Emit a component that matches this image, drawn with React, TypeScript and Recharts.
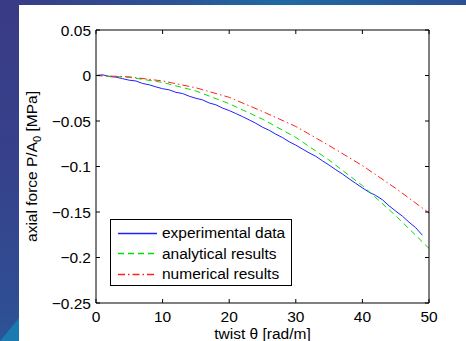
import React from 'react';
import { LineChart, Line, XAxis, YAxis, Legend } from 'recharts';

const twistExp = [0, 1, 2, 3, 4, 5, 6, 7, 8, 9, 10, 11, 12, 13, 14, 15, 16, 17, 18, 19, 20, 21, 22, 23, 24, 25, 26, 27, 28, 29, 30, 31, 32, 33, 34, 35, 36, 37, 38, 39, 40, 41, 42, 43, 44, 45, 46, 47, 48, 49];
const experimentalValues = [0, 0.0008, -0.0012, -0.0018, -0.0035, -0.0052, -0.006, -0.0088, -0.0102, -0.0125, -0.0145, -0.0158, -0.0185, -0.0198, -0.0228, -0.025, -0.0268, -0.0302, -0.0322, -0.0358, -0.0385, -0.0418, -0.0452, -0.0488, -0.0525, -0.0568, -0.0602, -0.0645, -0.0682, -0.0728, -0.0765, -0.0808, -0.085, -0.0888, -0.0938, -0.0985, -0.1035, -0.1082, -0.1135, -0.1185, -0.1235, -0.1282, -0.1318, -0.1365, -0.1432, -0.149, -0.1545, -0.1612, -0.1672, -0.1755];

const twistModel = [0, 5, 10, 15, 20, 25, 30, 35, 40, 45, 50];
const analyticalValues = [0, -0.002, -0.0076, -0.017, -0.031, -0.048, -0.068, -0.093, -0.121, -0.154, -0.19];
const numericalValues = [0, -0.0015, -0.006, -0.0135, -0.024, -0.0395, -0.056, -0.077, -0.099, -0.124, -0.151];

const xTicks = [0, 10, 20, 30, 40, 50];
const yTicks = [-0.25, -0.2, -0.15, -0.1, -0.05, 0, 0.05];
const seriesNames = ['experimental data', 'analytical results', 'numerical results'];

const seriesColors = ['#2020ff', '#00e000', '#ff2020'];
const seriesDashes: (string | undefined)[] = [undefined, '6 4', '7 3 1.5 3'];

const expData = twistExp.map((x, i) => ({ x, y: experimentalValues[i] }));
const anaData = twistModel.map((x, i) => ({ x, y: analyticalValues[i] }));
const numData = twistModel.map((x, i) => ({ x, y: numericalValues[i] }));

const FONT = '"Liberation Sans", Arial, Helvetica, sans-serif';
const FS = 15.5;

const fmtY = (v: number) => {
  if (v === 0) return '0';
  const s = String(Math.abs(v));
  return (v < 0 ? '\u2212' : '') + s;
};

const LegendBox = () => {
  return (
    <svg width={182} height={67} style={{ display: 'block' }}>
      <rect x={0.5} y={0.5} width={181} height={66} fill="#fff" stroke="#000" strokeWidth={1} />
      {seriesNames.map((name, i) => {
        const cy = 13.5 + i * 20.7;
        return (
          <g key={name}>
            <line
              x1={8}
              x2={47}
              y1={Math.round(cy) + 0.5}
              y2={Math.round(cy) + 0.5}
              style={{ stroke: seriesColors[i], strokeWidth: 1.3, strokeDasharray: seriesDashes[i] || 'none' }}
            />
            <text
              x={52}
              y={cy + 5.5}
              fontFamily={FONT}
              fontSize={FS}
              fill="#000"
            >
              {name}
            </text>
          </g>
        );
      })}
    </svg>
  );
};

const YLabel = (props: any) => {
  const vb = props.viewBox || { x: 0, y: 30, width: 96, height: 273 };
  const cx = vb.x + 37;
  const cy = vb.y + vb.height / 2;
  return (
    <text
      x={cx}
      y={cy}
      transform={`rotate(-90 ${cx} ${cy})`}
      textAnchor="middle"
      fontFamily={FONT}
      fontSize={FS}
      fill="#000"
    >
      <tspan>axial force P/A</tspan>
      <tspan dy={4} fontSize={FS * 0.72}>0</tspan>
      <tspan dy={-4}> [MPa]</tspan>
    </text>
  );
};

const XLabel = (props: any) => {
  const vb = props.viewBox || { x: 96, y: 303, width: 333, height: 38 };
  return (
    <text
      x={vb.x + vb.width / 2}
      y={vb.y + 36}
      textAnchor="middle"
      fontFamily={FONT}
      fontSize={FS}
      fill="#000"
    >
      twist θ [rad/m]
    </text>
  );
};

export default function App() {
  return (
    <div style={{ position: 'relative', width: 466, height: 341, overflow: 'hidden' }}>
      <style>{`body{margin:0}`}</style>
      <div
        style={{
          position: 'absolute',
          left: 0,
          top: 0,
          width: 466,
          height: 341,
          background: 'linear-gradient(90deg, #3a3a86 0%, #2b5598 40%, #1f6aa2 60%, #2c5096 100%)',
        }}
      />
      <div
        style={{
          position: 'absolute',
          left: 0,
          top: 0,
          width: 19,
          height: 341,
          background: 'linear-gradient(180deg, #3a3a86 0%, #36428b 50%, #2f4e94 90%, #2c5498 100%)',
        }}
      />
      <div
        style={{
          position: 'absolute',
          left: 0,
          top: 318,
          width: 19,
          height: 23,
          background: '#1b7bb0',
          clipPath: 'polygon(100% 0, 100% 100%, 0 100%)',
        }}
      />
      <div style={{ position: 'absolute', left: 19, top: 5, right: 0, bottom: 0, background: '#fff' }} />
      <div style={{ position: 'absolute', left: 0, top: 0 }}>
        <LineChart
          width={466}
          height={341}
          margin={{ top: 0, right: 0, bottom: 0, left: 0 }}
          style={{ fontFamily: FONT }}
        >
          <XAxis
            xAxisId={0}
            type="number"
            dataKey="x"
            domain={[0, 50]}
            ticks={xTicks}
            interval={0}
            height={38}
            tickSize={-4}
            tickMargin={11.5}
            axisLine={{ stroke: '#000', strokeWidth: 1 }}
            tickLine={{ stroke: '#000', strokeWidth: 1 }}
            tick={{ fill: '#000', fontSize: FS, fontFamily: FONT }}
            allowDataOverflow
            label={{ content: (p: any) => <XLabel {...p} /> }}
          />
          <XAxis
            xAxisId="top"
            orientation="top"
            type="number"
            dataKey="x"
            domain={[0, 50]}
            ticks={xTicks}
            interval={0}
            height={30}
            tickSize={-4}
            tickFormatter={() => ''}
            axisLine={{ stroke: '#000', strokeWidth: 1 }}
            tickLine={{ stroke: '#000', strokeWidth: 1 }}
            allowDataOverflow
          />
          <YAxis
            yAxisId={0}
            type="number"
            domain={[-0.25, 0.05]}
            ticks={yTicks}
            interval={0}
            width={96}
            tickSize={-4}
            tickMargin={9}
            tickFormatter={fmtY}
            axisLine={{ stroke: '#000', strokeWidth: 1 }}
            tickLine={{ stroke: '#000', strokeWidth: 1 }}
            tick={{ fill: '#000', fontSize: FS, fontFamily: FONT }}
            allowDataOverflow
            label={{ content: (p: any) => <YLabel {...p} /> }}
          />
          <YAxis
            yAxisId="right"
            orientation="right"
            type="number"
            domain={[-0.25, 0.05]}
            ticks={yTicks}
            interval={0}
            width={37}
            tickSize={-4}
            tickFormatter={() => ''}
            axisLine={{ stroke: '#000', strokeWidth: 1 }}
            tickLine={{ stroke: '#000', strokeWidth: 1 }}
            allowDataOverflow
          />
          <Line
            data={expData}
            dataKey="y"
            name={seriesNames[0]}
            stroke={seriesColors[0]}
            strokeWidth={1}
            dot={false}
            activeDot={false}
            type="linear"
            isAnimationActive={false}
          />
          <Line
            data={anaData}
            dataKey="y"
            name={seriesNames[1]}
            stroke={seriesColors[1]}
            strokeWidth={1}
            strokeDasharray={seriesDashes[1]}
            dot={false}
            activeDot={false}
            type="linear"
            isAnimationActive={false}
          />
          <Line
            data={numData}
            dataKey="y"
            name={seriesNames[2]}
            stroke={seriesColors[2]}
            strokeWidth={1}
            strokeDasharray={seriesDashes[2]}
            dot={false}
            activeDot={false}
            type="linear"
            isAnimationActive={false}
          />
          <Legend
            layout="horizontal"
            verticalAlign="middle"
            align="center"
            content={() => <LegendBox />}
            wrapperStyle={{ position: 'absolute', left: 110, top: 219, width: 182, height: 67 }}
          />
        </LineChart>
      </div>
    </div>
  );
}
